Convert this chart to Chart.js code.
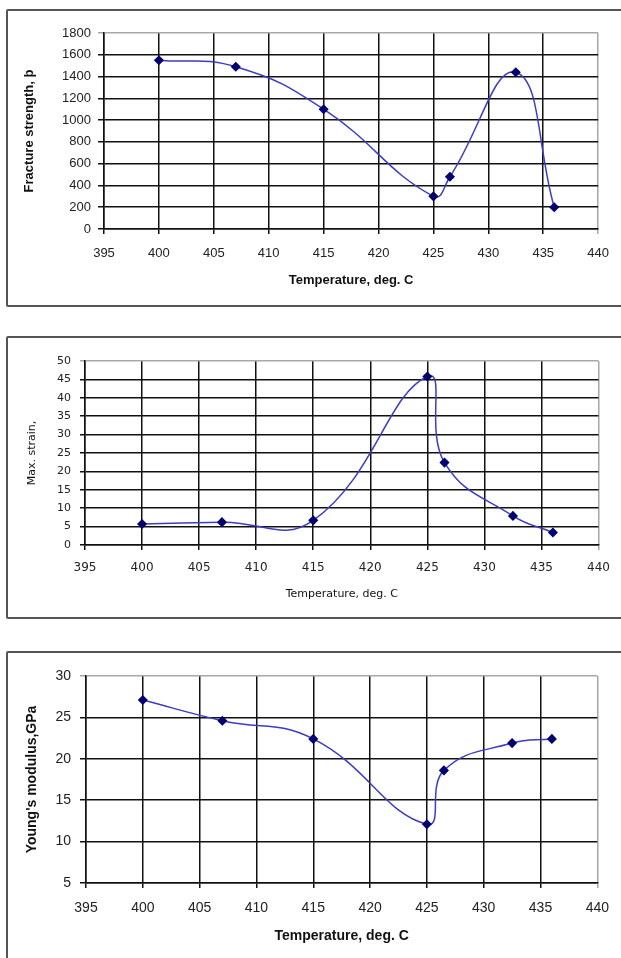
<!DOCTYPE html>
<html>
<head>
<meta charset="utf-8">
<script src="https://cdn.jsdelivr.net/npm/chart.js@4"></script>
<style>
  html, body { margin: 0; padding: 0; background: #fff; overflow: hidden; }
  body { width: 621px; height: 958px; position: relative; }
  .box { position: absolute; left: 6px; width: 720px; border: 2px solid #555; border-radius: 2px; }
  canvas { position: absolute; left: 0; }
</style>
</head>
<body>
<div class="box" style="top:9px;height:294px"></div>
<div class="box" style="top:336px;height:279px"></div>
<div class="box" style="top:651px;height:400px"></div>
<canvas id="c1" width="621" height="320" style="top:0px"></canvas>
<canvas id="c2" width="621" height="320" style="top:320px"></canvas>
<canvas id="c3" width="621" height="318" style="top:640px"></canvas>
<script>
// data
const temps = [400, 407, 415, 425, 426.5, 432.5, 436];
const fractureStrength = [1550, 1490, 1100, 300, 480, 1440, 200];
const maxStrain = [5.7, 6.2, 6.7, 45.8, 22.4, 7.9, 3.4];
const youngsModulus = [27.1, 24.6, 22.4, 12.1, 18.6, 21.9, 22.4];

const xTitle = 'Temperature, deg. C';
const xMin = 395, xMax = 440, xStep = 5;

const lineColor = '#3c3cc4';
const markerColor = '#000070';

function points(ys) {
  return temps.map((t, i) => ({ x: t, y: ys[i] }));
}

// one chart, plot area placed by pixel box
function makeChart(id, cfg) {
  const cv = document.getElementById(id);
  const H = cv.height, W = cv.width;
  return new Chart(cv.getContext('2d'), {
    type: 'line',
    data: {
      datasets: [{
        data: points(cfg.values),
        borderColor: lineColor,
        borderWidth: 1.5,
        tension: 0.45,
        pointStyle: 'rectRot',
        pointRadius: 4,
        pointBackgroundColor: markerColor,
        pointBorderColor: markerColor,
        fill: false
      }]
    },
    options: {
      responsive: false,
      animation: false,
      layout: { padding: { left: 0, top: cfg.area.top, right: W - cfg.area.right, bottom: 0 } },
      plugins: { legend: { display: false }, tooltip: { enabled: false } },
      scales: {
        x: {
          type: 'linear',
          min: xMin, max: xMax,
          afterFit: s => { s.height = H - cfg.area.bottom; },
          ticks: {
            stepSize: xStep, autoSkip: false, maxRotation: 0,
            color: '#222', font: cfg.xTickFont, padding: cfg.xTickPad,
            callback: v => String(v)
          },
          grid: {
            color: c => (c.tick && c.tick.value === xMax) ? '#a8a8a8' : '#111',
            lineWidth: 1.5, tickLength: 5
          },
          border: { color: '#111', width: 1.5 },
          title: {
            display: true, text: xTitle, color: '#111', font: cfg.titleFont,
            padding: { top: 0, bottom: cfg.xTitleBottom }
          }
        },
        y: {
          min: cfg.yMin, max: cfg.yMax,
          afterFit: s => { s.width = cfg.area.left; },
          ticks: {
            stepSize: cfg.yStep, color: '#222', font: cfg.yTickFont, padding: cfg.yTickPad,
            callback: v => String(v)
          },
          grid: {
            color: c => (c.tick && c.tick.value === cfg.yMax) ? '#a8a8a8' : '#111',
            lineWidth: 1.5, tickLength: cfg.yTickLen
          },
          border: { color: '#111', width: 1.5 },
          title: {
            display: true, text: cfg.yTitle, color: '#111', font: cfg.titleFont,
            padding: { top: cfg.yTitleLeft, bottom: 0 }
          }
        }
      }
    }
  });
}

makeChart('c1', {
  values: fractureStrength,
  yMin: 0, yMax: 1800, yStep: 200,
  yTitle: 'Fracture strength, þ',
  area: { left: 104, right: 600, top: 33, bottom: 229 },
  xTickFont: { family: 'Liberation Sans', size: 13 },
  yTickFont: { family: 'Liberation Sans', size: 13 },
  titleFont: { family: 'Liberation Sans', size: 13, weight: 'bold' },
  xTickPad: 12, yTickPad: 7, yTickLen: 6,
  xTitleBottom: 32, yTitleLeft: 22
});

makeChart('c2', {
  values: maxStrain,
  yMin: 0, yMax: 50, yStep: 5,
  yTitle: 'Max. strain,',
  area: { left: 85, right: 601, top: 41, bottom: 225 },
  xTickFont: { family: 'DejaVu Sans', size: 12 },
  yTickFont: { family: 'DejaVu Sans', size: 11 },
  titleFont: { family: 'DejaVu Sans', size: 11 },
  xTickPad: 11, yTickPad: 9, yTickLen: 5,
  xTitleBottom: 39, yTitleLeft: 26
});

makeChart('c3', {
  values: youngsModulus,
  yMin: 5, yMax: 30, yStep: 5,
  yTitle: "Young's modulus,GPa",
  area: { left: 86, right: 601, top: 36, bottom: 243 },
  xTickFont: { family: 'Liberation Sans', size: 14 },
  yTickFont: { family: 'Liberation Sans', size: 14 },
  titleFont: { family: 'Liberation Sans', size: 14, weight: 'bold' },
  xTickPad: 12, yTickPad: 9, yTickLen: 6,
  xTitleBottom: 13, yTitleLeft: 24
});
</script>
</body>
</html>
